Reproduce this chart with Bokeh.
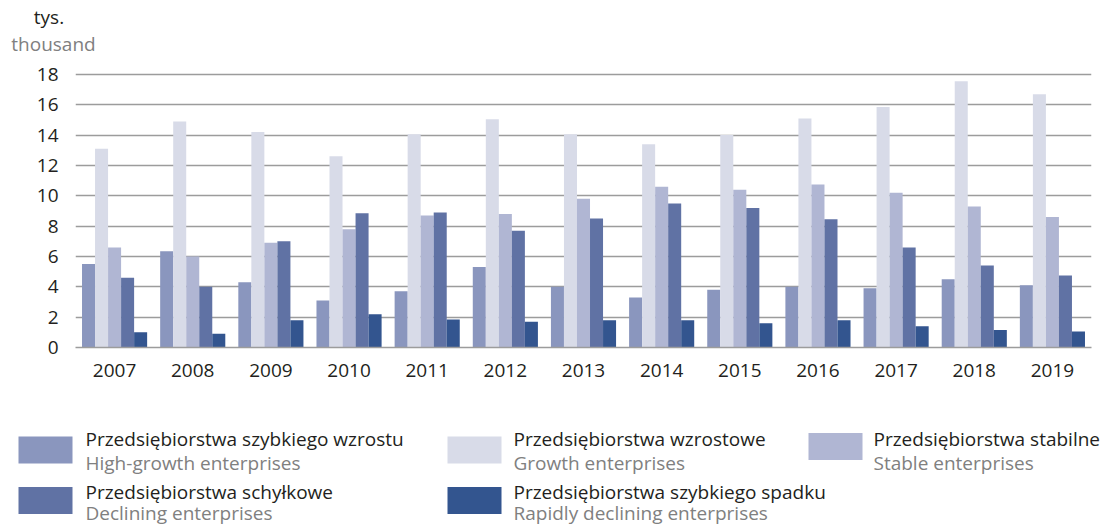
from bokeh.plotting import figure
from bokeh.models import Range1d, FactorRange, ColumnDataSource
from bokeh.transform import dodge
from bokeh.layouts import column
from bokeh.core.properties import value
from bokeh.embed import file_html
from bokeh.resources import INLINE

years = ["2007", "2008", "2009", "2010", "2011", "2012", "2013",
         "2014", "2015", "2016", "2017", "2018", "2019"]

high_growth = [5.5, 6.35, 4.3, 3.1, 3.7, 5.3, 4.0, 3.3, 3.8, 4.0, 3.9, 4.5, 4.1]
growth = [13.1, 14.9, 14.2, 12.6, 14.05, 15.05, 14.05, 13.4, 14.0, 15.1, 15.85, 17.55, 16.7]
stable = [6.6, 6.0, 6.9, 7.8, 8.7, 8.8, 9.8, 10.6, 10.4, 10.75, 10.2, 9.3, 8.6]
declining = [4.6, 4.0, 7.0, 8.85, 8.9, 7.7, 8.5, 9.5, 9.2, 8.45, 6.6, 5.4, 4.75]
rapid_decline = [1.0, 0.9, 1.8, 2.2, 1.85, 1.7, 1.8, 1.8, 1.6, 1.8, 1.4, 1.15, 1.05]

series_keys = ["hg", "g", "s", "d", "rd"]
labels_pl = ["Przedsiębiorstwa szybkiego wzrostu", "Przedsiębiorstwa wzrostowe",
             "Przedsiębiorstwa stabilne", "Przedsiębiorstwa schyłkowe",
             "Przedsiębiorstwa szybkiego spadku"]
labels_en = ["High-growth enterprises", "Growth enterprises", "Stable enterprises",
             "Declining enterprises", "Rapidly declining enterprises"]
colors = ["#8a96be", "#d8dbe8", "#b0b6d3", "#6072a4", "#33558f"]

y_ticks = [0, 2, 4, 6, 8, 10, 12, 14, 16, 18]

FONT = "Open Sans"
FS = "19px"
DARK = "#231f20"
GREY = "#808080"
W = 1103


def no_align(fig):
    try:
        fig.frame_align = False
    except Exception:
        pass


# ---------- header ----------
hdr = figure(width=W, height=60, x_range=Range1d(0, W), y_range=Range1d(60, 0),
             x_axis_location=None, y_axis_location=None,
             output_backend="svg", toolbar_location=None, min_border=0)
hdr.grid.visible = False
hdr.outline_line_color = None
no_align(hdr)
hdr.text(x=[48.5], y=[16], text=["tys."], text_font=value(FONT), text_font_size=FS,
         text_color=DARK, text_align="center", text_baseline="middle")
hdr.text(x=[53], y=[43], text=["thousand"], text_font=value(FONT), text_font_size=FS,
         text_color=GREY, text_align="center", text_baseline="middle")

# ---------- main chart ----------
src = ColumnDataSource(dict(year=years, hg=high_growth, g=growth, s=stable,
                            d=declining, rd=rapid_decline))

p = figure(width=W, height=340, x_range=FactorRange(*years, range_padding=0),
           y_range=Range1d(0, 18.26), output_backend="svg", toolbar_location=None,
           min_border_left=75, min_border_right=12, min_border_top=10, min_border_bottom=53)
p.outline_line_color = None
no_align(p)
bw = 1.0 / 6.0
for i, (k, c) in enumerate(zip(series_keys, colors)):
    p.vbar(x=dodge("year", (i - 2) * bw, range=p.x_range), top=k, width=bw,
           source=src, fill_color=c, line_color=None)

p.xgrid.visible = False
p.ygrid.ticker = y_ticks
p.ygrid.grid_line_color = "#9c9c9c"
p.ygrid.grid_line_width = 1.6
p.yaxis.ticker = y_ticks
p.yaxis.axis_line_color = None
p.yaxis.major_tick_line_color = None
p.yaxis.minor_tick_line_color = None
p.yaxis.major_label_standoff = 11
p.xaxis.axis_line_color = "#9c9c9c"
p.xaxis.axis_line_width = 1.6
p.xaxis.major_tick_line_color = None
p.xaxis.minor_tick_line_color = None
p.xaxis.major_label_standoff = 10
for ax in (p.xaxis, p.yaxis):
    ax.major_label_text_font = FONT
    ax.major_label_text_font_size = FS
    ax.major_label_text_color = DARK

# ---------- legend ----------
leg = figure(width=W, height=126, x_range=Range1d(0, W), y_range=Range1d(526, 400),
             x_axis_location=None, y_axis_location=None,
             output_backend="svg", toolbar_location=None, min_border=0)
leg.grid.visible = False
leg.outline_line_color = None
no_align(leg)

sw_x = [18, 447, 808, 18, 447]
sw_y = [449.5, 449.5, 446, 500, 500]
tx_x = [85, 513, 873, 85, 513]
pl_y = [438, 438, 438, 491, 491]
en_y = [462, 462, 462, 512, 512]
leg.rect(x=[v + 27 for v in sw_x], y=sw_y, width=54, height=27,
         fill_color=colors, line_color=None)
leg.text(x=tx_x, y=pl_y, text=labels_pl, text_font=value(FONT), text_font_size=FS,
         text_color=DARK, text_baseline="middle")
leg.text(x=tx_x, y=en_y, text=labels_en, text_font=value(FONT), text_font_size=FS,
         text_color=GREY, text_baseline="middle")

layout = column(hdr, p, leg, spacing=0)
open("out.html", "w").write(file_html(layout, INLINE))
